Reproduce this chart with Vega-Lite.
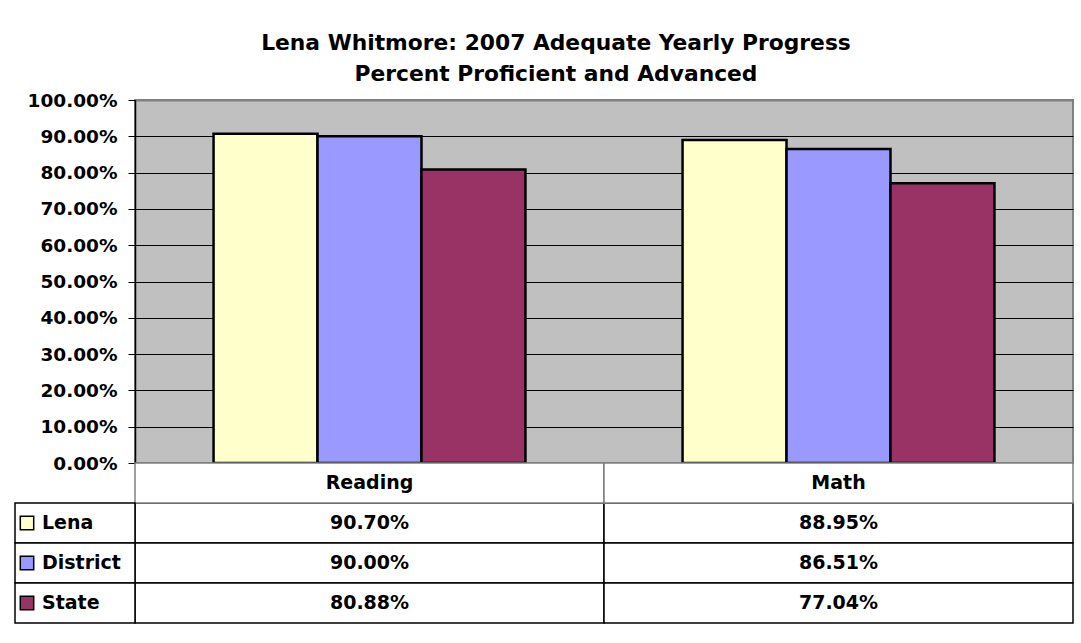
{
  "$schema": "https://vega.github.io/schema/vega-lite/v6.json",
  "width": 938,
  "height": 363,
  "autosize": {"type": "none"},
  "padding": {"left": 135, "top": 100, "right": 8, "bottom": 180},
  "background": "white",
  "title": {
    "text": ["Lena Whitmore: 2007 Adequate Yearly Progress", "Percent Proficient and Advanced"],
    "font": "DejaVu Sans",
    "fontSize": 21.8,
    "fontWeight": "bold",
    "color": "black",
    "anchor": "middle",
    "frame": "group",
    "lineHeight": 31,
    "offset": 5,
    "dx": -48
  },
  "config": {
    "view": {"fill": "#C0C0C0", "stroke": "#808080", "strokeWidth": 2},
    "font": "DejaVu Sans"
  },
  "data": {
    "values": [
      {"Subject": "Reading", "Series": "Lena", "Value": 0.907},
      {"Subject": "Reading", "Series": "District", "Value": 0.9},
      {"Subject": "Reading", "Series": "State", "Value": 0.8088},
      {"Subject": "Math", "Series": "Lena", "Value": 0.8895},
      {"Subject": "Math", "Series": "District", "Value": 0.8651},
      {"Subject": "Math", "Series": "State", "Value": 0.7704}
    ]
  },
  "resolve": {"scale": {"x": "independent", "y": "independent"}},
  "layer": [
    {
      "mark": {"type": "bar", "stroke": "black", "strokeWidth": 2.5, "opacity": 1},
      "encoding": {
        "x": {"field": "Subject", "type": "nominal", "sort": ["Reading", "Math"], "scale": {"type": "band", "paddingInner": 0.335, "paddingOuter": 0.1675}, "axis": null},
        "xOffset": {"field": "Series", "type": "nominal", "sort": ["Lena", "District", "State"], "scale": {"paddingInner": 0, "paddingOuter": 0}},
        "y": {
          "field": "Value", "type": "quantitative",
          "scale": {"domain": [0, 1]},
          "axis": {
            "title": null,
            "values": [0, 0.1, 0.2, 0.3, 0.4, 0.5, 0.6, 0.7, 0.8, 0.9, 1],
            "format": ".2%",
            "labelFont": "DejaVu Sans",
            "labelFontSize": 18.5,
            "labelFontWeight": "bold",
            "labelColor": "black",
            "labelPadding": 11,
            "tickSize": 7,
            "tickColor": "black",
            "tickWidth": 1,
            "domainColor": "black",
            "domainWidth": 1.5,
            "grid": true,
            "gridColor": {"condition": {"test": "datum.value === 1", "value": "#808080"}, "value": "black"},
            "gridWidth": {"condition": {"test": "datum.value === 1", "value": 2}, "value": 1},
            "gridOpacity": 1
          }
        },
        "color": {"field": "Series", "type": "nominal", "scale": {"domain": ["Lena", "District", "State"], "range": ["#FFFFCC", "#9999FF", "#993366"]}, "legend": null}
      }
    },
    {
      "mark": {"type": "rect", "fill": "white", "stroke": "black", "strokeWidth": 1.5},
      "encoding": {
        "x": {"field": "Subject", "type": "nominal", "sort": ["Reading", "Math"], "scale": {"type": "band", "paddingInner": 0, "paddingOuter": 0}, "axis": null},
        "y": {"field": "Series", "type": "nominal", "scale": {"type": "band", "domain": ["hdr", "Lena", "District", "State"], "range": [363, 523], "paddingInner": 0, "paddingOuter": 0}, "axis": null}
      }
    },
    {
      "transform": [{"filter": "datum.Series === 'Lena'"}],
      "mark": {"type": "rect", "fill": "white", "stroke": "#808080", "strokeWidth": 1.5},
      "encoding": {
        "x": {"field": "Subject", "type": "nominal", "sort": ["Reading", "Math"], "scale": {"type": "band", "paddingInner": 0, "paddingOuter": 0}, "axis": null},
        "y": {"datum": "hdr", "type": "nominal", "scale": {"type": "band", "domain": ["hdr", "Lena", "District", "State"], "range": [363, 523], "paddingInner": 0, "paddingOuter": 0}, "axis": null}
      }
    },
    {
      "transform": [{"filter": "datum.Series === 'Lena'"}],
      "mark": {"type": "text", "font": "DejaVu Sans", "fontSize": 19, "fontWeight": "bold", "color": "black", "baseline": "middle", "align": "center"},
      "encoding": {
        "x": {"field": "Subject", "type": "nominal", "sort": ["Reading", "Math"], "bandPosition": 0.5, "scale": {"type": "band", "paddingInner": 0, "paddingOuter": 0}, "axis": null},
        "y": {"datum": "hdr", "type": "nominal", "bandPosition": 0.5, "scale": {"type": "band", "domain": ["hdr", "Lena", "District", "State"], "range": [363, 523], "paddingInner": 0, "paddingOuter": 0}, "axis": null},
        "text": {"field": "Subject"}
      }
    },
    {
      "mark": {"type": "text", "font": "DejaVu Sans", "fontSize": 19, "fontWeight": "bold", "color": "black", "baseline": "middle", "align": "center"},
      "encoding": {
        "x": {"field": "Subject", "type": "nominal", "sort": ["Reading", "Math"], "bandPosition": 0.5, "scale": {"type": "band", "paddingInner": 0, "paddingOuter": 0}, "axis": null},
        "y": {"field": "Series", "type": "nominal", "bandPosition": 0.5, "scale": {"type": "band", "domain": ["hdr", "Lena", "District", "State"], "range": [363, 523], "paddingInner": 0, "paddingOuter": 0}, "axis": null},
        "text": {"field": "Value", "type": "quantitative", "format": ".2%"}
      }
    },
    {
      "transform": [{"filter": "datum.Subject === 'Reading'"}],
      "mark": {"type": "rect", "fill": "white", "stroke": "black", "strokeWidth": 1.5},
      "encoding": {
        "x": {"datum": "key", "type": "nominal", "scale": {"type": "band", "domain": ["key"], "range": [-120, 0], "paddingInner": 0, "paddingOuter": 0}, "axis": null},
        "y": {"field": "Series", "type": "nominal", "scale": {"type": "band", "domain": ["hdr", "Lena", "District", "State"], "range": [363, 523], "paddingInner": 0, "paddingOuter": 0}, "axis": null}
      }
    },
    {
      "transform": [{"filter": "datum.Subject === 'Reading'"}],
      "mark": {"type": "point", "shape": "square", "filled": true, "size": 180, "stroke": "black", "strokeWidth": 1.5, "opacity": 1},
      "encoding": {
        "x": {"datum": "key", "type": "nominal", "bandPosition": 0.1, "scale": {"type": "band", "domain": ["key"], "range": [-120, 0], "paddingInner": 0, "paddingOuter": 0}, "axis": null},
        "y": {"field": "Series", "type": "nominal", "bandPosition": 0.5, "scale": {"type": "band", "domain": ["hdr", "Lena", "District", "State"], "range": [363, 523], "paddingInner": 0, "paddingOuter": 0}, "axis": null},
        "color": {"field": "Series", "type": "nominal", "scale": {"domain": ["Lena", "District", "State"], "range": ["#FFFFCC", "#9999FF", "#993366"]}, "legend": null}
      }
    },
    {
      "transform": [{"filter": "datum.Subject === 'Reading'"}],
      "mark": {"type": "text", "font": "DejaVu Sans", "fontSize": 19, "fontWeight": "bold", "color": "black", "baseline": "middle", "align": "left"},
      "encoding": {
        "x": {"datum": "key", "type": "nominal", "bandPosition": 0.225, "scale": {"type": "band", "domain": ["key"], "range": [-120, 0], "paddingInner": 0, "paddingOuter": 0}, "axis": null},
        "y": {"field": "Series", "type": "nominal", "bandPosition": 0.5, "scale": {"type": "band", "domain": ["hdr", "Lena", "District", "State"], "range": [363, 523], "paddingInner": 0, "paddingOuter": 0}, "axis": null},
        "text": {"field": "Series"}
      }
    }
  ]
}
